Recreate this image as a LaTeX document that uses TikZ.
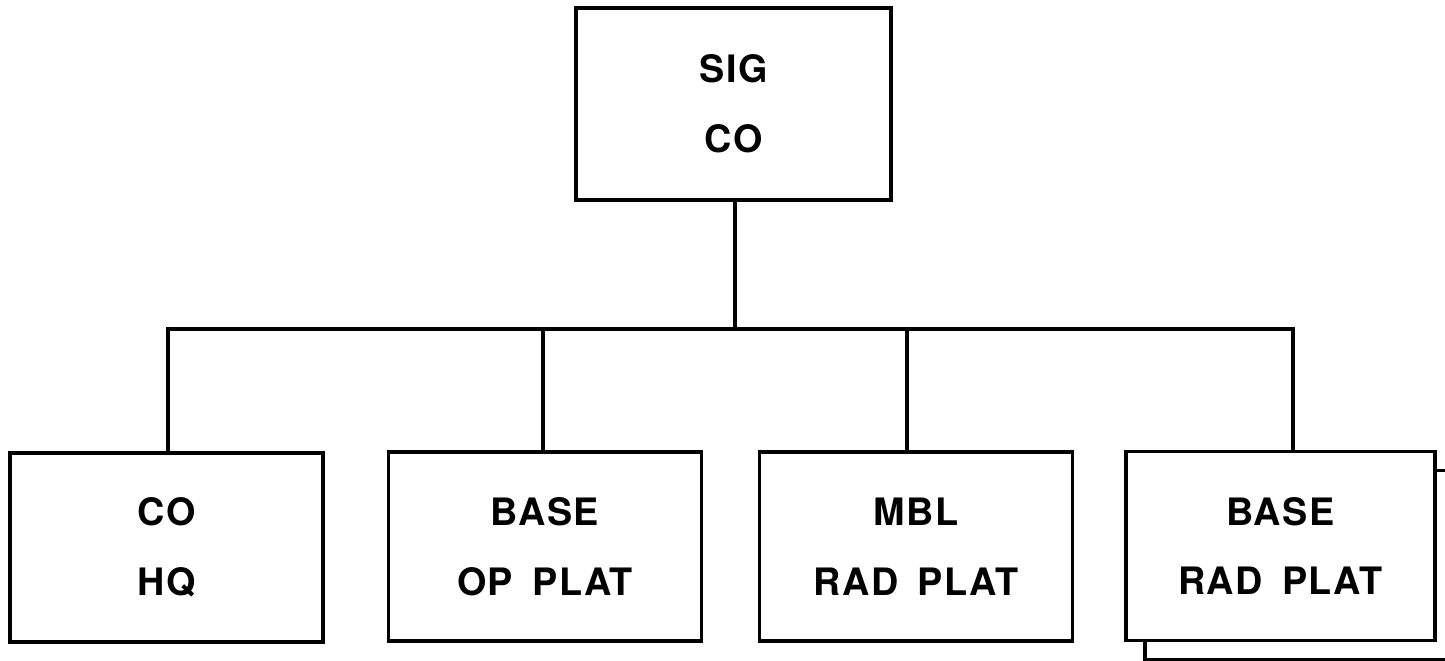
\documentclass[tikz,border=0pt]{standalone}
\usepackage{fontspec}
\usepackage{xcolor}
\usepackage{tikz}
\usetikzlibrary{calc}
\newfontfamily\boxfont[LetterSpace=4,WordSpace=1.6]{TeX Gyre Heros}
\definecolor{ink}{HTML}{000000}
\definecolor{paper}{HTML}{FFFFFF}
\tikzset{
  unit/.style={draw=ink, fill=paper, line width=2.2pt, line join=miter, inner sep=0pt,
    minimum width=6.26cm, minimum height=3.78cm, align=center, text=ink,
    font=\boxfont\bfseries\fontsize{21.5}{39.7}\selectfont},
  hqunit/.style={unit, minimum width=6.3cm, minimum height=3.84cm},
  link/.style={draw=ink, line width=2.2pt, line cap=rect, line join=miter},
}
\begin{document}
\begin{tikzpicture}[x=0.02cm, y=-0.02cm]
  \useasboundingbox (0,0) rectangle (1445,660);
  % company and its platoons
  \node[hqunit] (sig) at (733.5,104) {SIG\\CO};
  \node[unit] (hq) at (166.5,547.5) {CO\\HQ};
  \node[unit] (opplat) at (545,546.5) {BASE\\OP PLAT};
  \node[unit] (mblrad) at (916,546.5) {MBL\\RAD PLAT};
  \node[unit, minimum width=6.18cm] (baseradsh) at (1299.5,565) {};
  \node[unit, minimum width=6.18cm] (baserad) at (1280.5,546) {BASE\\RAD PLAT};
  % tree
  \coordinate (bus) at (735,329);
  \foreach \n/\dx in {hq/1.5, opplat/-2, mblrad/-9, baserad/12.5}
    \path ([xshift=\dx*0.02cm]\n.north) coordinate (\n-d);
  \draw[link] (sig.south -| bus) -- (bus);
  \draw[link] (hq-d) |- (bus) -| (baserad-d);
  \draw[link] (opplat-d) -- (opplat-d |- bus);
  \draw[link] (mblrad-d) -- (mblrad-d |- bus);
\end{tikzpicture}
\end{document}
